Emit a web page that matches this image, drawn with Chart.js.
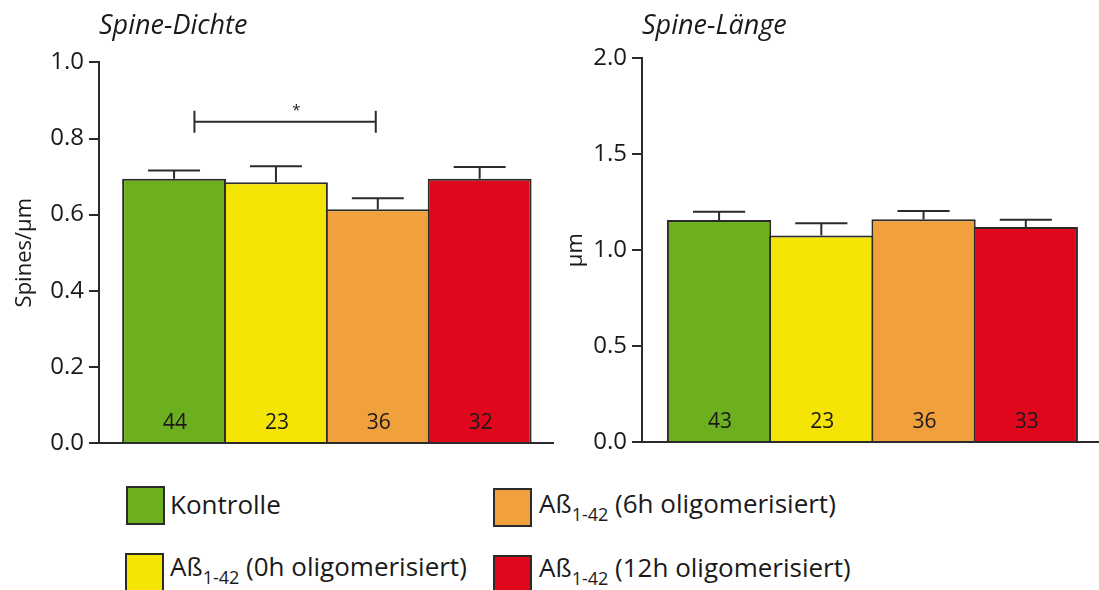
<!DOCTYPE html>
<html lang="de">
<head>
<meta charset="utf-8">
<title>Spine-Dichte und Spine-Länge</title>
<script src="https://cdn.jsdelivr.net/npm/chart.js@4.4.1/dist/chart.umd.min.js"></script>
<style>
  html, body { margin: 0; padding: 0; background: #ffffff; }
  body {
    width: 1099px; height: 590px; position: relative; overflow: hidden;
    font-family: "Open Sans", sans-serif; color: #1a1a1a;
  }
  .panel { position: absolute; top: 0; height: 470px; }
  #densityPanel { left: 0; width: 560px; }
  #lengthPanel { left: 560px; width: 539px; }
  .swatch {
    position: absolute; width: 39px; height: 39px; box-sizing: border-box;
    border: 2px solid #2b2b2b;
  }
  .legend-text {
    position: absolute; font-size: 26px; line-height: 26px; white-space: nowrap;
  }
  .legend-text sub {
    font-size: 18px; line-height: 0; vertical-align: baseline; position: relative; top: 8px;
  }
</style>
</head>
<body>
<div class="panel" id="densityPanel"><canvas id="densityChart" width="560" height="470"></canvas></div>
<div class="panel" id="lengthPanel"><canvas id="lengthChart" width="539" height="470"></canvas></div>
<div id="legend"></div>

<script>
// Treatment groups, in bar order
const categories = [
  'Kontrolle',
  'Aß1-42 (0h oligomerisiert)',
  'Aß1-42 (6h oligomerisiert)',
  'Aß1-42 (12h oligomerisiert)'
];
const barColors = ['#6caf1f', '#f4e506', '#f0a03d', '#e0061c'];

// Spine density (spines per µm), mean and SEM, with number of dendrites
const densityValues = [0.694, 0.685, 0.614, 0.694];
const densityErrors = [0.022, 0.042, 0.029, 0.031];
const densityCounts = [44, 23, 36, 32];
const densityTicks = [0.0, 0.2, 0.4, 0.6, 0.8, 1.0];

// Spine length (µm), mean and SEM, with number of dendrites
const lengthValues = [1.158, 1.076, 1.161, 1.121];
const lengthErrors = [0.043, 0.065, 0.044, 0.038];
const lengthCounts = [43, 23, 36, 33];
const lengthTicks = [0.0, 0.5, 1.0, 1.5, 2.0];

// Significance bracket: Kontrolle vs. 6h oligomerisiert (p < 0.05)
const densityBracket = { from: 0.2, to: 1.98, level: 0.844, markAt: 1.2, label: '*' };

const INK = '#1a1a1a';
const LINE = '#2b2b2b';
const FONT = "'Open Sans', sans-serif";

// Error bars, group sizes inside the bars and an optional significance bracket
const barAnnotations = {
  id: 'barAnnotations',
  afterDatasetsDraw(chart, args, opts) {
    const { ctx, chartArea } = chart;
    const xs = chart.scales.x;
    const ys = chart.scales.y;
    const meta = chart.getDatasetMeta(0);
    ctx.save();
    ctx.strokeStyle = LINE;
    ctx.lineWidth = 2;
    meta.data.forEach((bar, i) => {
      const top = ys.getPixelForValue(opts.values[i] + opts.errors[i]);
      const half = bar.width * 0.25;
      ctx.beginPath();
      ctx.moveTo(bar.x, bar.y);
      ctx.lineTo(bar.x, top);
      ctx.moveTo(bar.x - half, top);
      ctx.lineTo(bar.x + half, top);
      ctx.stroke();

      ctx.fillStyle = INK;
      ctx.font = '21px ' + FONT;
      ctx.textAlign = 'center';
      ctx.textBaseline = 'middle';
      ctx.fillText(String(opts.counts[i]), bar.x + 1, chartArea.bottom - 20);
    });

    const br = opts.bracket;
    if (br) {
      const x1 = xs.getPixelForValue(br.from);
      const x2 = xs.getPixelForValue(br.to);
      const yb = ys.getPixelForValue(br.level);
      ctx.beginPath();
      ctx.moveTo(x1, yb); ctx.lineTo(x2, yb);
      ctx.moveTo(x1, yb - 11); ctx.lineTo(x1, yb + 11);
      ctx.moveTo(x2, yb - 11); ctx.lineTo(x2, yb + 11);
      ctx.stroke();
      ctx.fillStyle = INK;
      ctx.font = '15px ' + FONT;
      ctx.textAlign = 'center';
      ctx.textBaseline = 'alphabetic';
      ctx.fillText(br.label, xs.getPixelForValue(br.markAt), yb - 7);
    }
    ctx.restore();
  }
};

function buildPanel(canvasId, cfg) {
  return new Chart(document.getElementById(canvasId), {
    type: 'bar',
    data: {
      datasets: [{
        data: cfg.values.map((v, i) => ({ x: i, y: v })),
        backgroundColor: barColors,
        borderColor: LINE,
        borderWidth: 2,
        borderSkipped: 'bottom',
        barPercentage: 1.02,
        categoryPercentage: 1
      }]
    },
    options: {
      responsive: false,
      animation: false,
      events: [],
      layout: { padding: { left: 0, right: cfg.padRight, top: 0, bottom: cfg.padBottom } },
      plugins: {
        legend: { display: false },
        tooltip: { enabled: false },
        title: {
          display: true,
          text: cfg.title,
          align: 'start',
          fullSize: false,
          color: INK,
          font: { family: FONT, size: 27, style: 'italic', weight: 'normal', lineHeight: 1.2 },
          padding: { top: 10, bottom: cfg.titleGap }
        },
        barAnnotations: {
          values: cfg.values,
          errors: cfg.errors,
          counts: cfg.counts,
          bracket: cfg.bracket || null
        }
      },
      scales: {
        x: {
          type: 'linear',
          offset: false,
          min: cfg.xMin,
          max: cfg.xMax,
          afterBuildTicks: s => { s.ticks = cfg.values.map((_, i) => ({ value: i })); },
          ticks: { display: false },
          grid: { display: false, drawTicks: false, offset: false },
          border: { display: true, color: LINE, width: 2 }
        },
        y: {
          min: cfg.ticks[0],
          max: cfg.ticks[cfg.ticks.length - 1],
          afterFit: s => { s.width = cfg.axisLeft; },
          afterBuildTicks: s => { s.ticks = cfg.ticks.map(v => ({ value: v })); },
          ticks: {
            padding: 5,
            color: INK,
            font: { family: FONT, size: 24 },
            callback: v => Number(v).toFixed(1)
          },
          grid: {
            display: true, drawOnChartArea: false, drawTicks: true,
            tickLength: 10, color: LINE, lineWidth: 2
          },
          border: { display: true, color: LINE, width: 2 },
          title: {
            display: true,
            text: cfg.axisTitle,
            color: INK,
            font: { family: FONT, size: 22, lineHeight: 1.2 },
            padding: { top: cfg.axisTitleOffset, bottom: 0 }
          }
        }
      }
    },
    plugins: [barAnnotations]
  });
}

buildPanel('densityChart', {
  title: 'Spine-Dichte',
  axisTitle: 'Spines/µm',
  values: densityValues,
  errors: densityErrors,
  counts: densityCounts,
  ticks: densityTicks,
  bracket: densityBracket,
  xMin: -0.737, xMax: 3.72,
  axisLeft: 99, axisTitleOffset: 12,
  titleGap: 20, padRight: 7, padBottom: 27
});

buildPanel('lengthChart', {
  title: 'Spine-Länge',
  axisTitle: 'µm',
  values: lengthValues,
  errors: lengthErrors,
  counts: lengthCounts,
  ticks: lengthTicks,
  xMin: -0.754, xMax: 3.716,
  axisLeft: 82, axisTitleOffset: 3,
  titleGap: 16, padRight: 0, padBottom: 28
});

// Legend: colour swatch and group name (with subscript peptide range)
const legendSlots = [
  { box: [126, 486], text: [170, 491] },
  { box: [125, 553], text: [170, 553] },
  { box: [493, 488], text: [539, 490] },
  { box: [493, 555], text: [539, 554] }
];
const legend = document.getElementById('legend');
categories.forEach((name, i) => {
  const slot = legendSlots[i];
  const sw = document.createElement('div');
  sw.className = 'swatch';
  sw.style.left = slot.box[0] + 'px';
  sw.style.top = slot.box[1] + 'px';
  sw.style.background = barColors[i];
  legend.appendChild(sw);

  const tx = document.createElement('div');
  tx.className = 'legend-text';
  tx.style.left = slot.text[0] + 'px';
  tx.style.top = slot.text[1] + 'px';
  const m = name.match(/^(Aß)(1-42)(.*)$/);
  if (m) {
    tx.appendChild(document.createTextNode(m[1]));
    const sub = document.createElement('sub');
    sub.textContent = m[2];
    tx.appendChild(sub);
    tx.appendChild(document.createTextNode(m[3]));
  } else {
    tx.textContent = name;
  }
  legend.appendChild(tx);
});
</script>
</body>
</html>
